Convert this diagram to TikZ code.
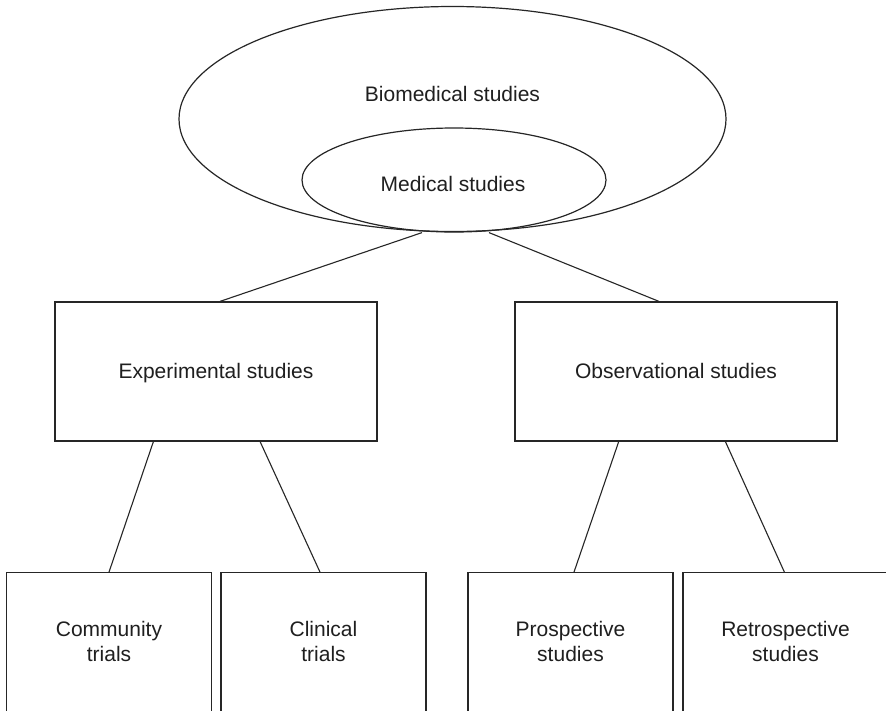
\documentclass[tikz,border=0pt]{standalone}
\usepackage{fontspec}
\setmainfont{Liberation Sans}
\usetikzlibrary{shapes.geometric}

\tikzset{
  ink/.style={draw=black!85, line width=1.2pt},
  oval/.style={ink, ellipse, inner sep=0pt},
  studybox/.style={ink, rectangle, inner sep=0pt, minimum height=139pt},
  leafbox/.style={studybox, minimum width=205pt},
  label/.style={anchor=base, inner sep=0pt, text=black!88,
                font=\fontsize{21pt}{25pt}\selectfont},
  link/.style={draw=black!85, line width=1.1pt},
}

\begin{document}
\begin{tikzpicture}[x=1pt, y=-1pt]
  % canvas frame; shapes running past the edge are cut off
  \useasboundingbox (0,0) rectangle (886,710);
  \clip (0,0) rectangle (886,710);
  \fill[white] (0,0) rectangle (886,710);

  % nested ovals at the top
  \node[oval, minimum width=547pt, minimum height=225pt] (bio) at (452.5,119) {};
  \node[oval, minimum width=304pt, minimum height=104pt] (med) at (454,180) {};
  \node[label] (biotxt) at (452.5,101.7) {Biomedical studies};
  \node[label] (medtxt) at (453,191.7) {Medical studies};

  % second level
  \node[studybox, minimum width=322pt] (exp) at (216,371.5) {};
  \node[studybox, minimum width=322pt] (obs) at (676,371.5) {};
  \node[label] (exptxt) at (216,378) {Experimental studies};
  \node[label] (obstxt) at (676,378) {Observational studies};

  % third level (boxes continue past the lower and right edges)
  \node[leafbox] (comm)  at (109,642.2) {};
  \node[leafbox] (clin)  at (323.5,642.2) {};
  \node[leafbox] (pros)  at (570.5,642.2) {};
  \node[leafbox, minimum width=220pt] (retro) at (793,642.2) {};

  \node[label] (comma) at (109,636.7) {Community};
  \node[label] (commb) at (109,661.7) {trials};
  \node[label] (clina) at (323.5,636.7) {Clinical};
  \node[label] (clinb) at (323.5,661.7) {trials};
  \node[label] (prosa) at (570.5,636.7) {Prospective};
  \node[label] (prosb) at (570.5,661.7) {studies};
  \node[label] (retra) at (785.5,636.7) {Retrospective};
  \node[label] (retrb) at (785.5,661.7) {studies};

  % connectors
  \draw[link] ([xshift=-32pt]med.south) -- ([xshift=165.6pt]exp.north west);
  \draw[link] ([xshift=35pt]med.south)  -- ([xshift=144.6pt]obs.north west);

  \draw[link] ([xshift=99pt]exp.south west)    -- (comm.north);
  \draw[link] ([xshift=205.7pt]exp.south west) -- ([xshift=-3.5pt]clin.north);
  \draw[link] ([xshift=104.3pt]obs.south west) -- ([xshift=3.5pt]pros.north);
  \draw[link] ([xshift=211pt]obs.south west)   -- ([xshift=102pt]retro.north west);
\end{tikzpicture}
\end{document}
